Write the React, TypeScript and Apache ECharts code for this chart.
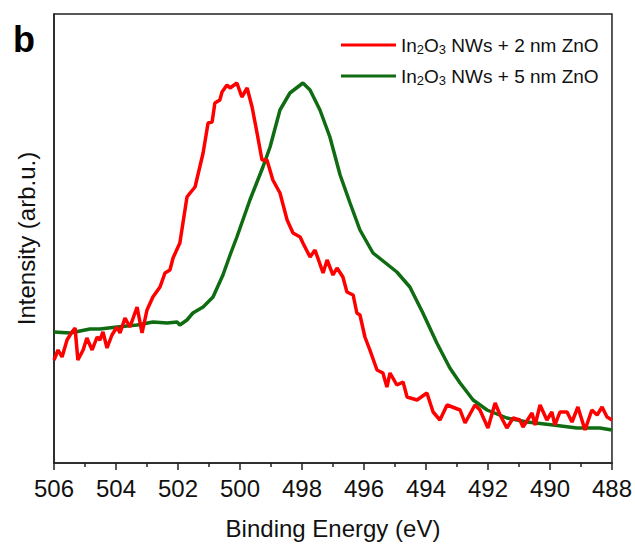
import React, { useEffect, useRef } from "react";
import * as echarts from "echarts";

const xTicks = [506, 504, 502, 500, 498, 496, 494, 492, 490, 488];

const seriesNames = ["In2O3 NWs + 2 nm ZnO", "In2O3 NWs + 5 nm ZnO"];

const greenE = [506.0, 505.48, 504.84, 504.52, 503.97, 503.32, 502.81, 502.35, 502.03, 501.94, 501.71, 501.52, 501.19, 500.87, 500.55, 500.32, 500.1, 499.68, 499.26, 499.03, 498.71, 498.39, 497.97, 497.74, 497.42, 497.1, 496.77, 496.45, 496.13, 495.71, 494.94, 494.52, 494.1, 493.65, 493.23, 492.9, 492.48, 492.03, 491.39, 490.74, 489.9, 489.13, 488.39, 488.0];
const greenI = [131, 130, 134, 134, 136, 138, 141, 140, 141, 138, 143, 150, 156, 166, 188, 208, 226, 263, 296, 316, 353, 370, 380, 373, 353, 326, 288, 260, 233, 210, 191, 176, 150, 120, 95, 80, 63, 53, 45, 41, 38, 35, 35, 33];

const redE = [506.0, 505.87, 505.74, 505.58, 505.42, 505.32, 505.23, 505.06, 504.94, 504.77, 504.61, 504.52, 504.42, 504.29, 504.13, 503.97, 503.87, 503.71, 503.55, 503.32, 503.16, 503.0, 502.81, 502.58, 502.42, 502.26, 502.16, 501.94, 501.71, 501.61, 501.45, 501.19, 501.03, 500.9, 500.81, 500.65, 500.58, 500.42, 500.32, 500.1, 499.94, 499.77, 499.61, 499.45, 499.29, 499.13, 498.94, 498.71, 498.48, 498.29, 498.06, 497.97, 497.74, 497.58, 497.32, 497.19, 497.0, 496.87, 496.68, 496.55, 496.35, 496.23, 496.13, 495.97, 495.81, 495.58, 495.39, 495.26, 495.16, 494.94, 494.74, 494.61, 494.29, 493.97, 493.77, 493.55, 493.32, 492.9, 492.74, 492.42, 492.26, 492.0, 491.77, 491.61, 491.39, 491.19, 490.97, 490.87, 490.58, 490.48, 490.32, 490.1, 489.94, 489.84, 489.68, 489.45, 489.29, 489.1, 488.87, 488.65, 488.48, 488.32, 488.16, 488.0];
const redI = [103, 113, 106, 123, 131, 135, 103, 113, 125, 113, 126, 123, 131, 115, 128, 136, 130, 145, 136, 156, 130, 153, 166, 176, 190, 193, 205, 220, 266, 270, 276, 310, 340, 341, 360, 363, 371, 378, 375, 380, 366, 375, 356, 330, 303, 303, 283, 270, 243, 230, 226, 220, 206, 213, 190, 203, 188, 195, 186, 171, 168, 150, 148, 126, 113, 93, 90, 76, 90, 78, 81, 66, 63, 70, 51, 43, 58, 53, 40, 58, 53, 35, 60, 48, 35, 45, 43, 36, 50, 38, 58, 43, 51, 38, 51, 51, 41, 56, 33, 53, 48, 56, 46, 43];

const FONT = "'Liberation Sans', Arial, Helvetica, sans-serif";

function zip(xs: number[], ys: number[]) {
  return xs.map((x, i) => [x, ys[i]]);
}

export default function App() {
  const ref = useRef<HTMLDivElement>(null);
  useEffect(() => {
    if (!ref.current) return;
    const chart = echarts.init(ref.current, undefined, { renderer: "svg" });
    chart.setOption({
      animation: false,
      backgroundColor: "#ffffff",
      textStyle: { fontFamily: FONT },
      grid: {
        left: 54,
        right: 23,
        top: 14,
        bottom: 83,
        show: true,
        borderColor: "#222222",
        borderWidth: 1.5,
        backgroundColor: "transparent",
      },
      legend: {
        orient: "vertical",
        left: 336,
        top: 29,
        itemWidth: 55,
        itemHeight: 3,
        itemGap: 9,
        icon: "rect",
        data: [seriesNames[0], seriesNames[1]],
        formatter: (name: string) =>
          name.replace("In2O3", "In{s|2}O{s|3}"),
        textStyle: {
          fontFamily: FONT,
          fontSize: 19,
          color: "#111111",
          lineHeight: 22,
          rich: {
            s: {
              fontFamily: FONT,
              fontSize: 13,
              lineHeight: 11,
              verticalAlign: "bottom",
              color: "#111111",
            },
          },
        },
      },
      xAxis: {
        type: "value",
        inverse: true,
        min: 488,
        max: 506,
        interval: 2,
        name: "Binding Energy (eV)",
        nameLocation: "middle",
        nameGap: 53,
        nameTextStyle: { fontFamily: FONT, fontSize: 24, color: "#111111" },
        axisLine: { show: true, lineStyle: { color: "#222222", width: 1.5 } },
        axisTick: { show: true, inside: false, length: 7, lineStyle: { color: "#222222", width: 1.5 } },
        minorTick: { show: true, splitNumber: 2, length: 4, lineStyle: { color: "#222222", width: 1.5 } },
        splitLine: { show: false },
        axisLabel: {
          margin: 13,
          fontFamily: FONT,
          fontSize: 24,
          color: "#111111",
          formatter: (v: number) => (xTicks.includes(v) ? String(v) : ""),
        },
      },
      yAxis: {
        type: "value",
        min: 0,
        max: 449,
        name: "Intensity (arb.u.)",
        nameLocation: "middle",
        nameGap: 16,
        nameTextStyle: { fontFamily: FONT, fontSize: 24, color: "#111111" },
        axisLine: { show: true, lineStyle: { color: "#222222", width: 1.5 } },
        axisTick: { show: false },
        axisLabel: { show: false },
        splitLine: { show: false },
      },
      graphic: [
        {
          type: "text",
          left: 13,
          top: 21,
          style: {
            text: "b",
            font: `bold 36px ${FONT}`,
            fill: "#000000",
          },
        },
      ],
      series: [
        {
          name: seriesNames[1],
          type: "line",
          data: zip(greenE, greenI),
          showSymbol: false,
          symbol: "none",
          lineStyle: { color: "#106c12", width: 3.5 },
          itemStyle: { color: "#106c12" },
        },
        {
          name: seriesNames[0],
          type: "line",
          data: zip(redE, redI),
          showSymbol: false,
          symbol: "none",
          lineStyle: { color: "#ff0000", width: 3.5 },
          itemStyle: { color: "#ff0000" },
        },
      ],
    });
    return () => chart.dispose();
  }, []);
  return (
    <div
      ref={ref}
      style={{ position: "fixed", left: 0, top: 0, width: 635, height: 546 }}
    />
  );
}
